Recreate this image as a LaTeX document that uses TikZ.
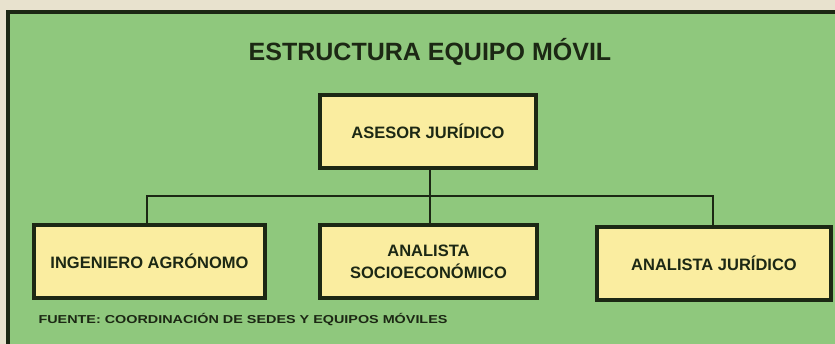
\documentclass[tikz,border=0pt]{standalone}
\usepackage{fontspec}
\setmainfont{Liberation Sans}
\usepackage{graphicx}
\definecolor{bgbeige}{RGB}{232,226,206}
\definecolor{panelgreen}{RGB}{143,200,125}
\definecolor{boxyellow}{RGB}{250,237,160}
\definecolor{inkdark}{RGB}{28,40,20}
\tikzset{
  orgbox/.style={draw=inkdark, line width=3.8pt, fill=boxyellow, rectangle,
    minimum height=73pt, inner sep=0pt, align=center, text=inkdark,
    font=\fontsize{16.5}{22}\selectfont\bfseries},
  link/.style={draw=inkdark, line width=2pt},
}
\begin{document}
\begin{tikzpicture}[x=1pt,y=-1pt]
\useasboundingbox (0,0) rectangle (835,344);
\begin{scope}
\clip (0,0) rectangle (835,344);
\fill[bgbeige] (0,0) rectangle (835,344);
\draw[inkdark, line width=3.5pt, fill=panelgreen] (8,12) rectangle (860,370);
\end{scope}
\node[text=inkdark, font=\fontsize{25}{30}\selectfont\bfseries] (title) at (430,52) {ESTRUCTURA EQUIPO MÓVIL};
\node[orgbox, minimum width=216pt] (top) at (428,131.5) {ASESOR JURÍDICO};
\node[orgbox, minimum width=231pt] (left) at (149.5,261.5) {INGENIERO AGRÓNOMO};
\node[orgbox, minimum width=217pt] (mid) at (428.5,261.5) {ANALISTA\\SOCIOECONÓMICO};
\node[orgbox, minimum width=234pt] (right) at (714,263.5) {ANALISTA JURÍDICO};
\coordinate (bus) at (430,196);
\draw[link] (top.south -| bus) -- (bus);
\draw[link] (left.north -| 147,0) |- (bus) -| (right.north -| 713,0);
\draw[link] (bus) -- (mid.north -| bus);
\node[anchor=west, text=inkdark, font=\fontsize{11.5}{14}\selectfont\bfseries] (src) at (35,320) {\scalebox{1.25}[1]{FUENTE: COORDINACIÓN DE SEDES Y EQUIPOS MÓVILES}};
\end{tikzpicture}
\end{document}
